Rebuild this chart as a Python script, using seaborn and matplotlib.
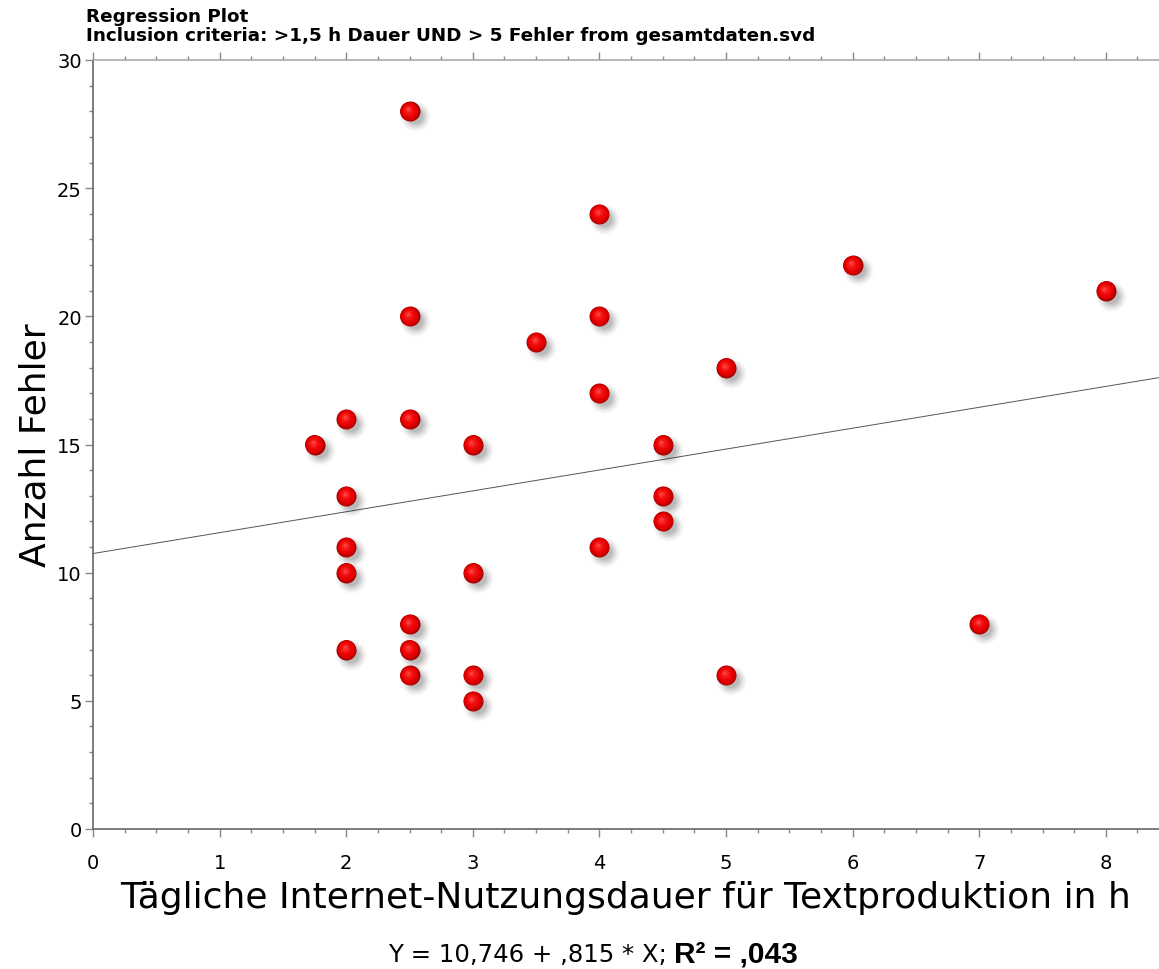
import numpy as np
import pandas as pd
import matplotlib
matplotlib.use("Agg")
import matplotlib.pyplot as plt
import matplotlib.transforms as mtransforms
from matplotlib.ticker import MultipleLocator
import seaborn as sns

# ---- data ----
x_hours = [1.75, 2, 2, 2, 2, 2, 2.5, 2.5, 2.5, 2.5, 2.5, 2.5,
           3, 3, 3, 3, 3.5, 4, 4, 4, 4, 4.5, 4.5, 4.5, 5, 5, 6, 7, 8]
y_errors = [15, 16, 13, 11, 10, 7, 28, 20, 16, 8, 7, 6,
            15, 10, 6, 5, 19, 24, 20, 17, 11, 15, 13, 12, 18, 6, 22, 8, 21]
fit_intercept = 10.746
fit_slope = 0.815
title_lines = ["Regression Plot",
               "Inclusion criteria: >1,5 h Dauer UND > 5 Fehler from gesamtdaten.svd"]
x_label = "Tägliche Internet-Nutzungsdauer für Textproduktion in h"
y_label = "Anzahl Fehler"
eq_text = "Y = 10,746 + ,815 * X; "
r2_text = "R² = ,043"

df = pd.DataFrame({"x": x_hours, "y": y_errors})

sns.set_theme(style="white")
FONT = ["DejaVu Sans"]
plt.rcParams["font.family"] = FONT
plt.rcParams["text.color"] = "black"
plt.rcParams["axes.labelcolor"] = "black"

W, H, DPI = 1159, 970, 100
fig = plt.figure(figsize=(W / DPI, H / DPI), dpi=DPI)
ax = fig.add_axes([93 / W, 1 - 830 / H, 1 - 93 / W, (830 - 61) / H])

ax.set_xlim(0, 8.42)
ax.set_ylim(0, 30)

# regression line
ax.axline((0, fit_intercept), slope=fit_slope, color="#555555", lw=0.7, zorder=1)

def off(dx, dy):
    return mtransforms.offset_copy(ax.transData, fig=fig, x=dx, y=dy, units="dots")

# shadow (blurred, offset down-right)
for d, a in [(30, 0.03), (27, 0.045), (24, 0.06), (21, 0.07), (18, 0.08), (15, 0.09)]:
    s = (d * 72 / DPI) ** 2
    sns.scatterplot(data=df, x="x", y="y", ax=ax, s=s, color="#303030", alpha=a,
                    linewidth=0, transform=off(5, -5), zorder=2, legend=False)

# sphere: layered gradient
layers = [(20, "#a00000", 0.0), (19, "#c00000", 0.3), (17.5, "#d60000", 0.7),
          (15.5, "#e40000", 1.1), (13, "#ec0606", 1.5), (10, "#f31212", 1.9),
          (6.5, "#f82626", 2.3), (3.5, "#fc4040", 2.6)]
for d, c, sh in layers:
    s = (d * 72 / DPI) ** 2
    sns.scatterplot(data=df, x="x", y="y", ax=ax, s=s, color=c, linewidth=0,
                    transform=off(-sh * 0.6, sh * 0.8), zorder=3, legend=False)

# axes styling
ax.set_xlabel(x_label, fontsize=26, labelpad=6, color="black")
ax.set_ylabel(y_label, fontsize=26, color="black")
ax.yaxis.set_label_coords(-0.038, 0.5)
ax.xaxis.set_major_locator(MultipleLocator(1))
ax.xaxis.set_minor_locator(MultipleLocator(0.25))
ax.yaxis.set_major_locator(MultipleLocator(5))
ax.yaxis.set_minor_locator(MultipleLocator(1))
ax.tick_params(axis="x", which="major", direction="out", length=6, width=1,
               color="#888888", labelcolor="black", labelsize=14, pad=11,
               top=True, bottom=True)
ax.tick_params(axis="x", which="minor", direction="out", length=3, width=1,
               color="#888888", top=True, bottom=True)
ax.tick_params(axis="y", which="major", direction="out", length=6, width=1,
               color="#888888", labelcolor="black", labelsize=14, pad=2,
               left=True, right=False)
ax.tick_params(axis="y", which="minor", direction="out", length=3, width=1,
               color="#888888", left=True, right=False)
for sp in ["left", "bottom"]:
    ax.spines[sp].set_color("#666666")
    ax.spines[sp].set_linewidth(1.2)
ax.spines["top"].set_color("#aaaaaa")
ax.spines["top"].set_linewidth(1.2)
ax.spines["right"].set_visible(False)
ax.grid(False)

# title
fig.text(86 / W, 1 - 17 / H, title_lines[0], ha="left", va="center",
         fontsize=13.2, fontweight="bold", color="black")
fig.text(86 / W, 1 - 36 / H, title_lines[1], ha="left", va="center",
         fontsize=13.2, fontweight="bold", color="black")

# caption (regular + bold part)
fig.canvas.draw()
r = fig.canvas.get_renderer()
cy = 1 - 955 / H
t1 = fig.text(0, cy, eq_text, ha="left", va="center", fontsize=17.6, color="black")
t2 = fig.text(0, cy, r2_text, ha="left", va="center", fontsize=21.5,
              fontweight="bold", family=["Liberation Sans", "DejaVu Sans"],
              color="black")
w1 = t1.get_window_extent(r).width
w2 = t2.get_window_extent(r).width
x0 = 593 - (w1 + w2) / 2
t1.set_x(x0 / W)
t2.set_x((x0 + w1) / W)

fig.savefig("out.png", dpi=DPI)
